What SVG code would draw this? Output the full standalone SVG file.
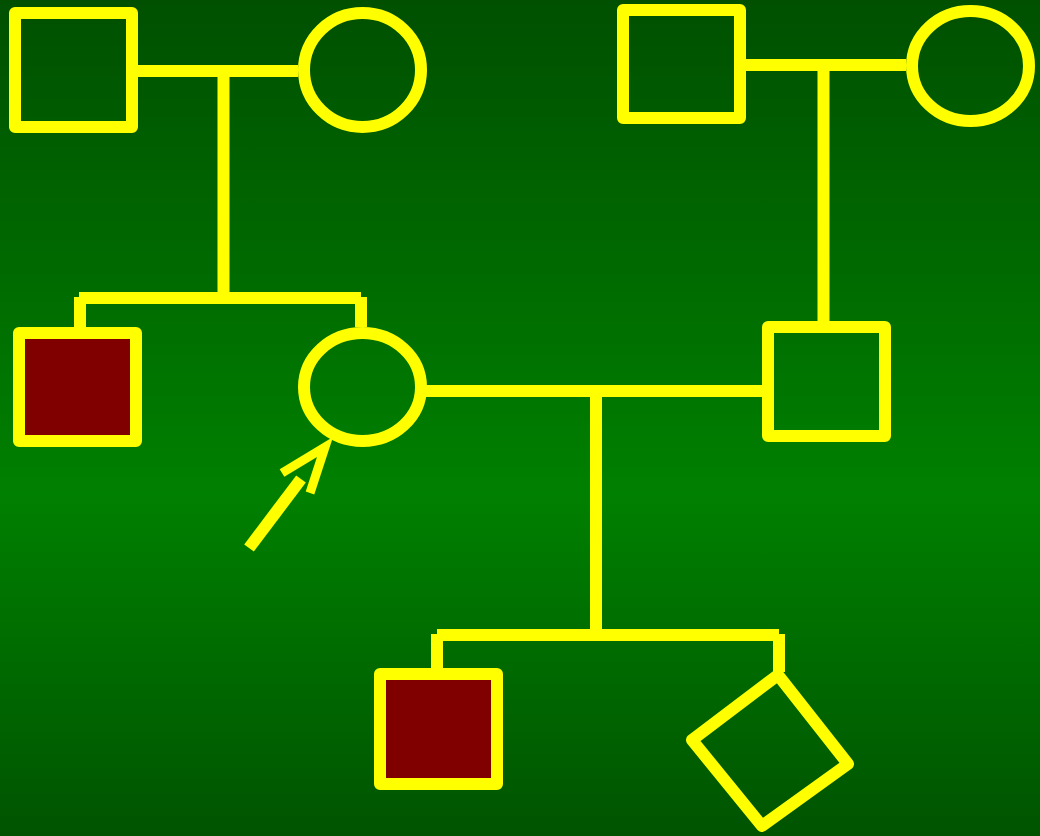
<svg xmlns="http://www.w3.org/2000/svg" width="1040" height="836" viewBox="0 0 1040 836">
<defs>
<linearGradient id="bg" x1="0" y1="0" x2="0" y2="1">
<stop offset="0" stop-color="#005000"/>
<stop offset="0.59" stop-color="#008000"/>
<stop offset="1" stop-color="#005400"/>
</linearGradient>
<style>
.n{fill:none;stroke:#ffff00;stroke-width:12;stroke-linejoin:round}
.a{fill:#800000}
.c{fill:none;stroke:#ffff00;stroke-width:12;stroke-linecap:butt}
</style>
</defs>
<rect width="1040" height="836" fill="url(#bg)"/>
<g id="connectors" class="c">
<path d="M138,71 H298"/>
<path d="M223.5,71 V298"/>
<path d="M79,298 H361"/>
<path d="M80,297 V327"/>
<path d="M361,297 V327"/>
<path d="M746,65 H906"/>
<path d="M823.5,65 V322"/>
<path d="M420,391 H762"/>
<path d="M596,391 V635"/>
<path d="M437,635 H779"/>
<path d="M437,634 V668"/>
<path d="M779,634 V672"/>
<path d="M249,548 L301,479"/>
<path d="M282,473 L325,447 L310,493" stroke-width="9"/>
</g>
<g id="grandfather1"><rect class="n" x="15" y="13" width="117" height="114"/></g>
<g id="grandmother1"><ellipse class="n" cx="362.5" cy="70" rx="58.5" ry="57"/></g>
<g id="grandfather2"><rect class="n" x="623" y="10" width="117" height="108"/></g>
<g id="grandmother2"><ellipse class="n" cx="970.5" cy="66" rx="58.5" ry="55"/></g>
<g id="uncle"><rect class="n a" x="19" y="333" width="117" height="108"/></g>
<g id="proband"><ellipse class="n" cx="362.5" cy="387" rx="58.5" ry="54"/></g>
<g id="husband"><rect class="n" x="768" y="327" width="117" height="109"/></g>
<g id="son"><rect class="n a" x="380" y="674" width="117" height="110"/></g>
<g id="unknown"><polygon class="n" points="778,675 848,764 762,826 692,740"/></g>
</svg>
